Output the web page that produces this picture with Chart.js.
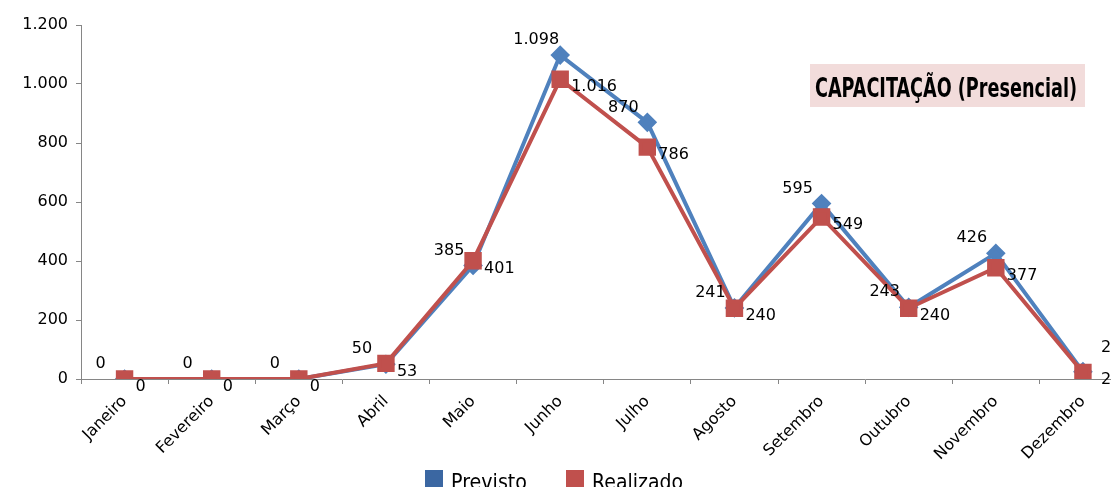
<!DOCTYPE html>
<html>
<head>
<meta charset="utf-8">
<script src="https://cdn.jsdelivr.net/npm/chart.js@4.4.1/dist/chart.umd.min.js"></script>
<style>
  body { margin: 0; background: #fff; overflow: hidden; }
  #wrap { width: 1111px; height: 487px; overflow: hidden; }
</style>
</head>
<body>
<div id="wrap"><canvas id="chart" width="1140" height="487"></canvas></div>
<script>
const meses = ["Janeiro", "Fevereiro", "Março", "Abril", "Maio", "Junho", "Julho", "Agosto", "Setembro", "Outubro", "Novembro", "Dezembro"];
const previsto = [0, 0, 0, 50, 385, 1098, 870, 241, 595, 243, 426, 25];
const realizado = [0, 0, 0, 53, 401, 1016, 786, 240, 549, 240, 377, 22];
const seriesNames = ["Previsto", "Realizado"];
const yMax = 1200;
const yStep = 200;
const titulo = "CAPACITAÇÃO (Presencial)";

const FONT = "'DejaVu Sans', sans-serif";

// 1098 -> "1.098"
function fmt(v){
  return String(v).replace(/\B(?=(\d{3})+(?!\d))/g, ".");
}

// value labels: Previsto up-left, Realizado right-below (last point: both to the right)
const valueLabels = {
  id: "valueLabels",
  afterDatasetsDraw(chart){
    const ctx = chart.ctx;
    ctx.save();
    ctx.font = "16px " + FONT;
    ctx.fillStyle = "#000";
    ctx.textBaseline = "middle";
    chart.data.datasets.forEach((ds, i)=>{
      const meta = chart.getDatasetMeta(i);
      const last = meta.data.length - 1;
      meta.data.forEach((pt, j)=>{
        const txt = fmt(ds.data[j]);
        if(i === 0 && j === last){
          ctx.textAlign = "left";
          ctx.fillText(txt, pt.x + 18, pt.y - 24);
        } else if(i === 0){
          ctx.textAlign = "center";
          ctx.fillText(txt, pt.x - 24, pt.y - 15);
        } else if(j === last){
          ctx.textAlign = "left";
          ctx.fillText(txt, pt.x + 18, pt.y + 7);
        } else {
          ctx.textAlign = "left";
          ctx.fillText(txt, pt.x + 11, pt.y + 8);
        }
      });
    });
    ctx.restore();
  }
};

// title box + legend at the bottom
const extras = {
  id: "extras",
  afterDraw(chart){
    const ctx = chart.ctx;
    ctx.save();
    ctx.fillStyle = "#F2DCDB";
    ctx.fillRect(810, 64, 275, 43);
    ctx.fillStyle = "#000";
    ctx.font = "bold 27px 'DejaVu Sans Condensed', " + FONT;
    ctx.textAlign = "left";
    ctx.textBaseline = "alphabetic";
    ctx.fillText(titulo, 815, 97, 262);

    // legend
    const widths = [76, 91];
    let x = 425;
    ctx.font = "22px " + FONT;
    chart.data.datasets.forEach((ds, i)=>{
      ctx.fillStyle = ds.backgroundColor;
      ctx.fillRect(x, 470, 18, 18);
      ctx.fillStyle = "#000";
      ctx.fillText(ds.label, x + 26, 489, widths[i]);
      x += 26 + widths[i] + 39;
    });
    ctx.restore();
  }
};

new Chart(document.getElementById("chart"), {
  type: "line",
  data: {
    labels: meses,
    datasets: [
      {
        label: seriesNames[0],
        data: previsto,
        order: 2,
        borderColor: "#4F81BD",
        backgroundColor: "#3B67A2",
        borderWidth: 4,
        pointStyle: "rectRot",
        pointRadius: 7,
        pointBackgroundColor: "#4F81BD",
        pointBorderColor: "#4F81BD",
        fill: false,
        tension: 0
      },
      {
        label: seriesNames[1],
        data: realizado,
        order: 1,
        borderColor: "#C0504D",
        backgroundColor: "#C0504D",
        borderWidth: 4,
        pointStyle: "rect",
        pointRadius: 9.5,
        pointBackgroundColor: "#C0504D",
        pointBorderColor: "#C0504D",
        fill: false,
        tension: 0
      }
    ]
  },
  options: {
    responsive: false,
    animation: false,
    devicePixelRatio: 1,
    layout: { padding: { top: 25, right: 6, left: 0, bottom: 0 } },
    plugins: { legend: { display: false }, tooltip: { enabled: false } },
    scales: {
      x: {
        offset: true,
        grid: { offset: true, drawOnChartArea: false, tickLength: 5, color: "#868686" },
        border: { color: "#868686" },
        ticks: { minRotation: 45, maxRotation: 45, autoSkip: false, padding: 8, color: "#000", font: { family: FONT, size: 16 } },
        afterFit(s){ s.height = 108; }
      },
      y: {
        min: 0,
        max: yMax,
        grid: { drawOnChartArea: false, tickLength: 5, color: "#868686" },
        border: { color: "#868686" },
        ticks: { stepSize: yStep, padding: 8, color: "#000", font: { family: FONT, size: 16 }, callback: v=>fmt(v) },
        afterFit(s){ s.width = 81; }
      }
    }
  },
  plugins: [valueLabels, extras]
});
</script>
</body>
</html>
